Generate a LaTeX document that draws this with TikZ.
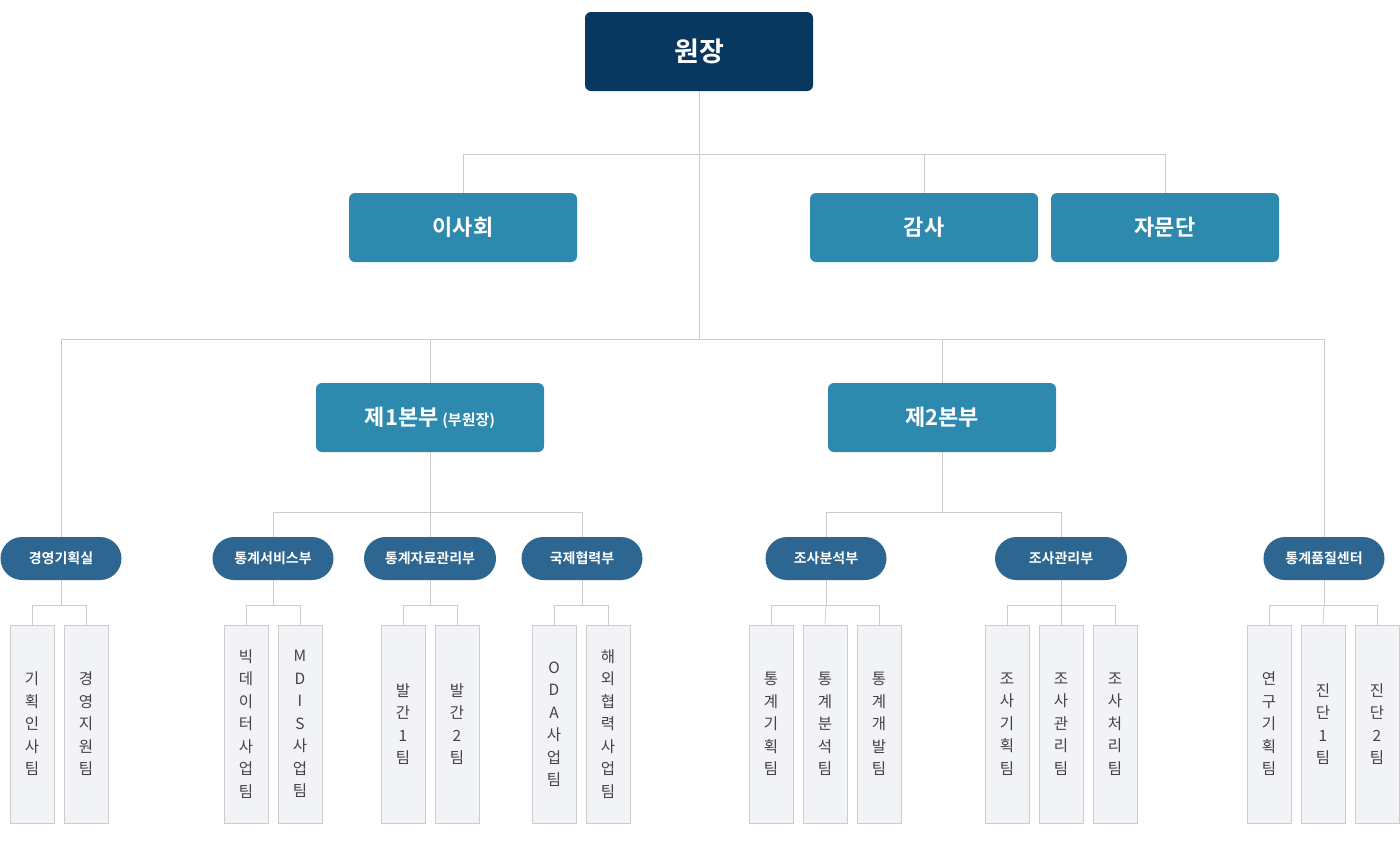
\documentclass[tikz,border=0pt]{standalone}
\usepackage{fontspec}
\setmainfont{Noto Sans CJK KR}
\newfontfamily\kb{Noto Sans CJK KR Bold}
\definecolor{navy}{HTML}{08385F}
\definecolor{teal}{HTML}{2E89AE}
\definecolor{pill}{HTML}{2D6690}
\definecolor{lfill}{HTML}{F2F3F7}
\definecolor{lline}{HTML}{CCCCCC}
\definecolor{ltext}{HTML}{444444}
\tikzset{
 top/.style={fill=navy,rounded corners=6pt,minimum width=228pt,minimum height=79pt,text=white,font=\kb\fontsize{27}{30}\selectfont,inner sep=0},
 mid/.style={fill=teal,rounded corners=6pt,minimum width=228pt,minimum height=69pt,text=white,font=\kb\fontsize{22}{26}\selectfont,inner sep=0},
 pillbox/.style={fill=pill,rounded corners=21.5pt,minimum width=121pt,minimum height=43pt,text=white,font=\kb\fontsize{14}{16}\selectfont,inner sep=0},
 leafbox/.style={fill=lfill,draw=lline,line width=0.8pt,minimum width=44pt,minimum height=198pt,text=ltext,font=\fontsize{15.5}{22.5}\selectfont,align=center,inner sep=0},
 conn/.style={draw=lline,line width=0.8pt},
}
\begin{document}
\begin{tikzpicture}[x=1pt,y=-1pt]
\useasboundingbox (0,0) rectangle (1400,844);
\node[top] (won) at (699,51.5) {원장};
\node[mid] (isa) at (463,227.5) {이사회};
\node[mid] (gamsa) at (924,227.5) {감사};
\node[mid] (jamun) at (1165,227.5) {자문단};
\node[mid] (b1) at (430,417.5) {제1본부\,{\kb\fontsize{15}{18}\selectfont(부원장)}};
\node[mid] (b2) at (942,417.5) {제2본부};
\node[pillbox] (p1) at (61,558.5) {경영기획실};
\node[pillbox] (p2) at (273,558.5) {통계서비스부};
\node[pillbox,minimum width=132pt] (p3) at (430,558.5) {통계자료관리부};
\node[pillbox] (p4) at (582,558.5) {국제협력부};
\node[pillbox] (p5) at (826,558.5) {조사분석부};
\node[pillbox,minimum width=132pt] (p6) at (1061,558.5) {조사관리부};
\node[pillbox] (p7) at (1324,558.5) {통계품질센터};
% leaves
\foreach \n/\x/\t in {l11/32/{기\\획\\인\\사\\팀},l12/86/{경\\영\\지\\원\\팀},
 l21/246/{빅\\데\\이\\터\\사\\업\\팀},l22/300/{M\\D\\I\\S\\사\\업\\팀},
 l31/403/{발\\간\\1\\팀},l32/457/{발\\간\\2\\팀},
 l41/554/{O\\D\\A\\사\\업\\팀},l42/608/{해\\외\\협\\력\\사\\업\\팀},
 l51/771/{통\\계\\기\\획\\팀},l52/825/{통\\계\\분\\석\\팀},l53/879/{통\\계\\개\\발\\팀},
 l61/1007/{조\\사\\기\\획\\팀},l62/1061/{조\\사\\관\\리\\팀},l63/1115/{조\\사\\처\\리\\팀},
 l71/1269/{연\\구\\기\\획\\팀},l72/1323/{진\\단\\1\\팀},l73/1377/{진\\단\\2\\팀}}
 {\node[leafbox] (\n) at (\x,724) {\t};}
% connectors
\coordinate (j0) at (699,154);
\coordinate (j1) at (699,339);
\coordinate (j2) at (430,512);
\coordinate (j3) at (942,512);
\draw[conn] (won.south) -- (j1);
\draw[conn] (isa.north) -- (isa.north|-j0) -- (jamun.north|-j0) -- (jamun.north);
\draw[conn] (gamsa.north|-j0) -- (gamsa.north);
\draw[conn] (p1.north) -- (p1.north|-j1) -- (p7.north|-j1) -- (p7.north);
\draw[conn] (b1.north|-j1) -- (b1.north);
\draw[conn] (b2.north|-j1) -- (b2.north);
\draw[conn] (b1.south) -- (j2);
\draw[conn] (p2.north) -- (p2.north|-j2) -- (p4.north|-j2) -- (p4.north);
\draw[conn] (j2) -- (p3.north);
\draw[conn] (b2.south) -- (j3);
\draw[conn] (p5.north) -- (p5.north|-j3) -- (p6.north|-j3) -- (p6.north);
\foreach \p/\a/\b in {p1/l11/l12,p2/l21/l22,p3/l31/l32,p4/l41/l42,p5/l51/l53,p6/l61/l63,p7/l71/l73}{
 \draw[conn] (\p.south) -- ++(0,25) coordinate (\p j);
 \draw[conn] (\a.north) -- (\a.north|-\p j) -- (\b.north|-\p j) -- (\b.north);
}
\draw[conn] (p5j) -- (l52.north);
\draw[conn] (p6j) -- (l62.north);
\draw[conn] (p7j) -- (l72.north);
\end{tikzpicture}
\end{document}
